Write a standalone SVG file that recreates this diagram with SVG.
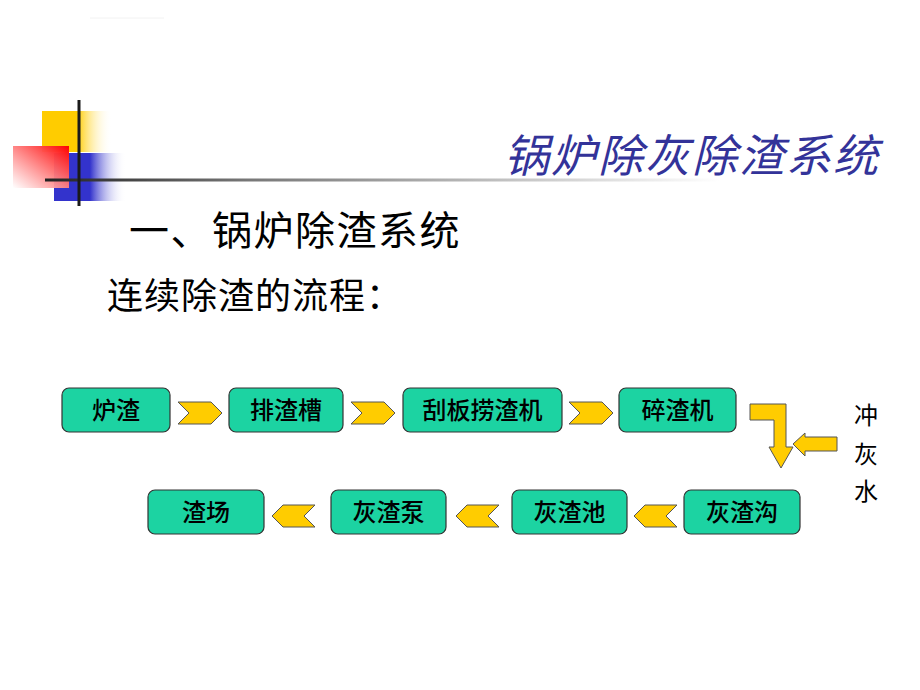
<svg xmlns="http://www.w3.org/2000/svg" width="920" height="690" viewBox="0 0 920 690">
  <style>
    .box { fill: #1CD3A2; stroke: #333333; stroke-width: 1.2; }
    .btxt { font-family: "Noto Sans CJK SC", "Noto Sans", sans-serif; font-size: 24px; font-weight: 500; fill: #000000; text-anchor: middle; }
    .arr { fill: #FFCC00; stroke: #555555; stroke-width: 1; stroke-linejoin: miter; }
    .cjk { font-family: "Noto Sans CJK SC", "Noto Sans", sans-serif; fill: #000000; }
  </style>
  <defs>
    <linearGradient id="gY" x1="0" y1="0" x2="1" y2="0">
      <stop offset="0" stop-color="#FFCC00"/>
      <stop offset="0.5" stop-color="#FFCC00"/>
      <stop offset="1" stop-color="#FFFFFF" stop-opacity="0"/>
    </linearGradient>
    <linearGradient id="gB" x1="0" y1="0" x2="1" y2="0">
      <stop offset="0" stop-color="#3333CC"/>
      <stop offset="0.5" stop-color="#3333CC"/>
      <stop offset="1" stop-color="#FFFFFF" stop-opacity="0"/>
    </linearGradient>
    <linearGradient id="gR" x1="1" y1="0" x2="0" y2="1">
      <stop offset="0" stop-color="#FF0000"/>
      <stop offset="1" stop-color="#FFFFFF" stop-opacity="0.9"/>
    </linearGradient>
    <linearGradient id="gL" gradientUnits="userSpaceOnUse" x1="45" y1="0" x2="720" y2="0">
      <stop offset="0" stop-color="#222222"/>
      <stop offset="0.3" stop-color="#777777"/>
      <stop offset="1" stop-color="#FFFFFF"/>
    </linearGradient>
  </defs>

  <g id="decoration">
    <line x1="90" y1="18" x2="164" y2="18" stroke="#F2F2F2" stroke-width="1"/>
    <rect x="42" y="111" width="70" height="41" fill="url(#gY)"/>
    <rect x="54" y="153" width="72" height="48" fill="url(#gB)"/>
    <rect x="13" y="146" width="56" height="42" fill="url(#gR)"/>
    <rect x="45" y="178.5" width="675" height="3" fill="url(#gL)"/>
    <rect x="77.5" y="100" width="3" height="106" fill="#1A1A1A"/>
  </g>

  <g id="titles">
    <text x="880" y="172" text-anchor="end" font-family="Noto Sans CJK SC, sans-serif" font-size="45" font-style="italic" letter-spacing="2" fill="#333399">锅炉除灰除渣系统</text>
    <text x="129" y="245" class="cjk" font-size="40" letter-spacing="1.5">一、锅炉除渣系统</text>
    <text x="107" y="309" class="cjk" font-size="36" letter-spacing="1">连续除渣的流程：</text>
  </g>

  <g id="connectors">
    <path class="arr" d="M178,402 L211,402 L222,413 L211,424 L178,424 L189,413 Z"/>
    <path class="arr" d="M351,402 L384,402 L395,413 L384,424 L351,424 L362,413 Z"/>
    <path class="arr" d="M569,402 L602,402 L613,413 L602,424 L569,424 L580,413 Z"/>
    <path class="arr" d="M750,404 L786,404 L786,447 L793,447 L781,468 L769,447 L774,447 L774,420 L750,420 Z"/>
    <path class="arr" d="M793,444 L805,433 L805,437 L837,437 L837,451 L805,451 L805,456 Z"/>
    <path class="arr" d="M677,505 L645,505 L634,516 L645,527 L677,527 L666,516 Z"/>
    <path class="arr" d="M499,505 L467,505 L456,516 L467,527 L499,527 L488,516 Z"/>
    <path class="arr" d="M315,505 L283,505 L272,516 L283,527 L315,527 L304,516 Z"/>
  </g>

  <g id="n-luzha"><rect class="box" x="62" y="388" width="108" height="44" rx="7"/><text class="btxt" x="116" y="419">炉渣</text></g>
  <g id="n-paizhacao"><rect class="box" x="229" y="388" width="114" height="44" rx="7"/><text class="btxt" x="286" y="419">排渣槽</text></g>
  <g id="n-guaban"><rect class="box" x="403" y="388" width="159" height="44" rx="7"/><text class="btxt" x="482.5" y="419">刮板捞渣机</text></g>
  <g id="n-suizhaji"><rect class="box" x="619" y="388" width="117" height="44" rx="7"/><text class="btxt" x="677.5" y="419">碎渣机</text></g>
  <g id="n-huizhagou"><rect class="box" x="684" y="490" width="116" height="44" rx="7"/><text class="btxt" x="742" y="521">灰渣沟</text></g>
  <g id="n-huizhachi"><rect class="box" x="512" y="490" width="115" height="44" rx="7"/><text class="btxt" x="569.5" y="521">灰渣池</text></g>
  <g id="n-huizhabeng"><rect class="box" x="331" y="490" width="115" height="44" rx="7"/><text class="btxt" x="388.5" y="521">灰渣泵</text></g>
  <g id="n-zhachang"><rect class="box" x="148" y="490" width="116" height="44" rx="7"/><text class="btxt" x="206" y="521">渣场</text></g>

  <g id="n-chonghuishui">
    <text class="cjk" x="866" y="424" font-size="24" text-anchor="middle">冲</text>
    <text class="cjk" x="866" y="463" font-size="24" text-anchor="middle">灰</text>
    <text class="cjk" x="866" y="500" font-size="24" text-anchor="middle">水</text>
  </g>
</svg>
